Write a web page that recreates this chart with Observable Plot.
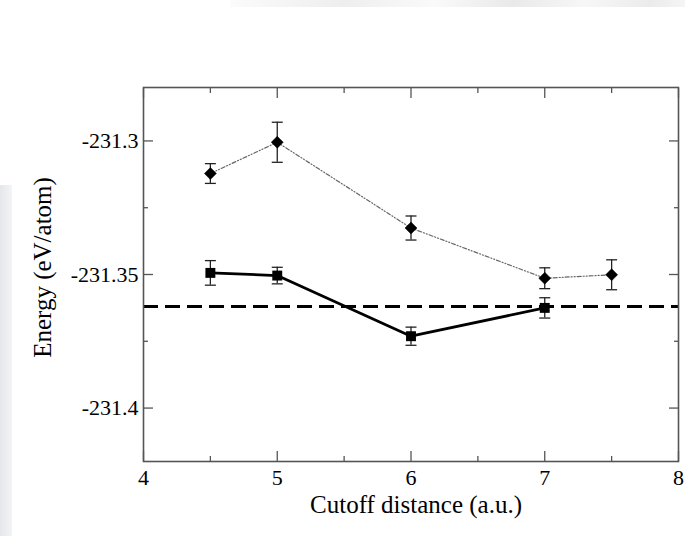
<!DOCTYPE html>
<html><head><meta charset="utf-8">
<script src="https://cdn.jsdelivr.net/npm/d3@7"></script>
<script src="https://cdn.jsdelivr.net/npm/@observablehq/plot@0.6"></script>
<style>
body{margin:0;background:#fff;}
#wrap{position:relative;width:685px;height:536px;overflow:hidden;}
#leftband{position:absolute;left:0;top:185px;width:12px;height:351px;background:linear-gradient(to right,#e4e6ea,#f3f4f6);}
#topband{position:absolute;left:230px;top:0;width:455px;height:7px;background:linear-gradient(100deg,#fbfbfb,#eeeeee 25%,#fafafa 45%,#e9e9e9 62%,#f7f7f7 78%,#ebebeb 92%,#f5f5f5);}
#chart{position:absolute;left:0;top:0;}
</style></head><body>
<div id="wrap"><div id="leftband"></div><div id="topband"></div><div id="chart"></div></div>
<script>
// ---- data ----
const squareX   = [4.5, 5, 6, 7];
const squareE   = [-231.3494, -231.3504, -231.3731, -231.3625];
const squareErr = [0.0046, 0.0031, 0.0034, 0.0038];
const diamondX   = [4.5, 5, 6, 7, 7.5];
const diamondE   = [-231.3122, -231.3005, -231.3326, -231.3514, -231.3501];
const diamondErr = [0.0037, 0.0075, 0.0045, 0.0039, 0.0056];
const refEnergy = -231.362;
const xMajor = [4, 5, 6, 7, 8];
const xMinor = [4.5, 5.5, 6.5, 7.5];
const yMajor = [-231.4, -231.35, -231.3];
const yMinor = [-231.375, -231.325];
const yTickLabels = ["-231.4", "-231.35", "-231.3"];
const xLabel = "Cutoff distance (a.u.)";
const yLabel = "Energy (eV/atom)";

const squares = squareX.map((x, i) => ({x, e: squareE[i], err: squareErr[i]}));
const diamonds = diamondX.map((x, i) => ({x, e: diamondE[i], err: diamondErr[i]}));

const cap = {draw(ctx, size) { const w = Math.sqrt(size); ctx.moveTo(-w / 2, 0); ctx.lineTo(w / 2, 0); }};
const frameColor = "#555";

function errorMarks(data) {
  return [
    Plot.ruleX(data, {x: "x", y1: d => d.e - d.err, y2: d => d.e + d.err, stroke: "#222", strokeWidth: 1.3}),
    Plot.dot(data, {x: "x", y: d => d.e + d.err, symbol: cap, r: 6.2, stroke: "#222", strokeWidth: 1.3, fill: "none"}),
    Plot.dot(data, {x: "x", y: d => d.e - d.err, symbol: cap, r: 6.2, stroke: "#222", strokeWidth: 1.3, fill: "none"})
  ];
}

const chart = Plot.plot({
  width: 685,
  height: 536,
  marginLeft: 143,
  marginRight: 7,
  marginTop: 87,
  marginBottom: 75,
  style: {background: "transparent", fontFamily: "Liberation Serif", fontSize: "22px", color: "black"},
  x: {domain: [4, 8]},
  y: {domain: [-231.42, -231.28]},
  marks: [
    Plot.ruleY([refEnergy], {stroke: "black", strokeWidth: 3, strokeDasharray: "15,7"}),
    Plot.line(diamonds, {x: "x", y: "e", stroke: "#666", strokeWidth: 1.2, strokeDasharray: "4,2,1,2,1,2"}),
    Plot.line(squares, {x: "x", y: "e", stroke: "black", strokeWidth: 2.8}),
    ...errorMarks(diamonds),
    ...errorMarks(squares),
    Plot.dot(diamonds, {x: "x", y: "e", symbol: "diamond2", r: 5.4, fill: "black", stroke: "black", strokeWidth: 0.5}),
    Plot.dot(squares, {x: "x", y: "e", symbol: "square", r: 5.6, fill: "black"}),
    // inward ticks on all four sides
    Plot.axisX(xMajor, {anchor: "bottom", tickSize: -10, tickFormat: () => "", label: null, stroke: frameColor, strokeWidth: 1.3}),
    Plot.axisX(xMinor, {anchor: "bottom", tickSize: -5, tickFormat: () => "", label: null, stroke: frameColor, strokeWidth: 1.3}),
    Plot.axisX(xMajor, {anchor: "top", tickSize: -10, tickFormat: () => "", label: null, stroke: frameColor, strokeWidth: 1.3}),
    Plot.axisX(xMinor, {anchor: "top", tickSize: -5, tickFormat: () => "", label: null, stroke: frameColor, strokeWidth: 1.3}),
    Plot.axisY(yMajor, {anchor: "left", tickSize: -10, tickFormat: () => "", label: null, stroke: frameColor, strokeWidth: 1.3}),
    Plot.axisY(yMinor, {anchor: "left", tickSize: -5, tickFormat: () => "", label: null, stroke: frameColor, strokeWidth: 1.3}),
    Plot.axisY(yMajor, {anchor: "right", tickSize: -10, tickFormat: () => "", label: null, stroke: frameColor, strokeWidth: 1.3}),
    Plot.axisY(yMinor, {anchor: "right", tickSize: -5, tickFormat: () => "", label: null, stroke: frameColor, strokeWidth: 1.3}),
    // tick labels
    Plot.axisX(xMajor, {anchor: "bottom", tickSize: 0, tickPadding: 8, label: null, fontSize: 22, fill: "black", tickFormat: d => String(d)}),
    Plot.axisY(yMajor, {anchor: "left", tickSize: 0, tickPadding: 5, label: null, fontSize: 22, fill: "black", tickFormat: (d, i) => yTickLabels[i]}),
    Plot.frame({stroke: frameColor, strokeWidth: 1.6}),
    // axis titles
    Plot.text([xLabel], {frameAnchor: "bottom", lineAnchor: "bottom", dy: 51, dx: 5, fontSize: 25, fill: "black"}),
    Plot.text([yLabel], {frameAnchor: "left", textAnchor: "middle", lineAnchor: "bottom", rotate: -90, dx: -93, dy: -7, fontSize: 25, fill: "black"})
  ]
});
document.getElementById("chart").appendChild(chart);
</script>
</body></html>
